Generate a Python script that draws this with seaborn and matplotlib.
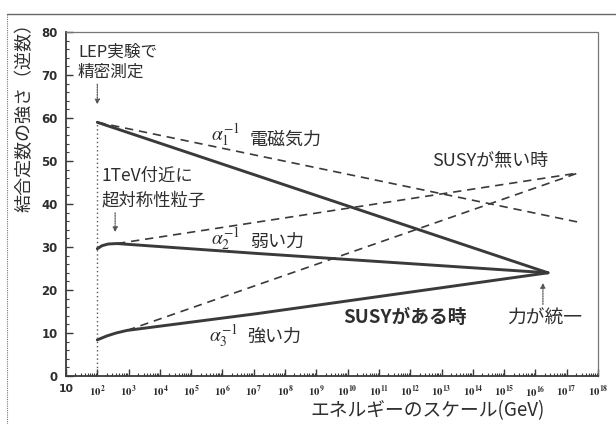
import numpy as np
import pandas as pd
import matplotlib
matplotlib.use("Agg")
import matplotlib.pyplot as plt
import matplotlib.ticker as mticker
from matplotlib.lines import Line2D
import seaborn as sns

# ---- data: inverse coupling constants vs log10(energy / GeV) ----
susy_a1_logE = [2.0, 16.4]
susy_a1 = [59.0, 24.0]
susy_a2_logE = [2.0, 2.15, 2.35, 2.63, 7.1, 16.4]
susy_a2 = [29.6, 30.3, 30.7, 30.8, 28.5, 24.0]
susy_a3_logE = [2.0, 2.3, 2.6, 2.95, 7.1, 16.4]
susy_a3 = [8.4, 9.3, 10.0, 10.6, 14.5, 24.0]

nosusy_a1_logE = [2.0, 17.36]
nosusy_a1 = [59.0, 35.8]
nosusy_a2_logE = [2.63, 17.36]
nosusy_a2 = [30.8, 47.2]
nosusy_a3_logE = [2.95, 17.36]
nosusy_a3 = [10.6, 47.2]

x_tick_exponents = list(range(1, 19))
x_tick_labels = ["10"] + [r"$\mathbf{10^{%d}}$" % e for e in x_tick_exponents[1:]]
y_ticks = [0, 10, 20, 30, 40, 50, 60, 70, 80]

sns.set_theme(style="white")
plt.rcParams["font.family"] = ["Noto Sans CJK JP", "DejaVu Sans"]
plt.rcParams["mathtext.fontset"] = "stix"

INK = "#3a3a3a"
TXT = "#2e2e2e"

frames = []
for name, kind, le, v in [
    ("a1", "susy", susy_a1_logE, susy_a1),
    ("a2", "susy", susy_a2_logE, susy_a2),
    ("a3", "susy", susy_a3_logE, susy_a3),
    ("a1", "nosusy", nosusy_a1_logE, nosusy_a1),
    ("a2", "nosusy", nosusy_a2_logE, nosusy_a2),
    ("a3", "nosusy", nosusy_a3_logE, nosusy_a3),
]:
    frames.append(pd.DataFrame({"E": 10.0 ** np.asarray(le), "inv": v,
                                "force": name, "kind": kind}))
df = pd.concat(frames, ignore_index=True)

fig = plt.figure(figsize=(6.16, 4.24), dpi=100)
ax = fig.add_axes([66 / 616, 48 / 424, 532 / 616, 344 / 424])

for (force, kind), sub in df.groupby(["force", "kind"]):
    if kind == "susy":
        sns.lineplot(data=sub, x="E", y="inv", ax=ax, color=INK, lw=2.1,
                     legend=False, sort=False)
    else:
        sns.lineplot(data=sub, x="E", y="inv", ax=ax, color=INK, lw=1.2,
                     dashes=False, legend=False, sort=False)
        ax.lines[-1].set_dashes((5, 3.5))

ax.set_xscale("log")
ax.set_xlim(10, 1e18)
ax.set_ylim(0, 80)

# vertical marker at the LEP energy
ax.vlines(100, 0, 59, color="#555555", lw=1.0, linestyles=(0, (1, 2)))

# axes and ticks
ax.xaxis.set_major_locator(mticker.FixedLocator([10.0 ** e for e in x_tick_exponents]))
ax.xaxis.set_major_formatter(mticker.FixedFormatter(x_tick_labels))
ax.xaxis.set_minor_locator(mticker.LogLocator(base=10, subs=np.arange(2, 10), numticks=40))
ax.xaxis.set_minor_formatter(mticker.NullFormatter())
ax.set_yticks(y_ticks)
ax.yaxis.set_minor_locator(mticker.MultipleLocator(2))
ax.tick_params(axis="both", which="major", direction="in", length=5, width=1,
               color=INK, labelcolor=TXT, pad=6,
               bottom=True, left=True, top=False, right=False)
ax.tick_params(axis="y", which="major", labelsize=8.5)
ax.tick_params(axis="x", which="major", labelsize=7.8)
ax.tick_params(axis="both", which="minor", direction="in", length=2.5, width=0.8,
               color=INK, bottom=True, left=True, top=False, right=False)
for lab in ax.get_xticklabels() + ax.get_yticklabels():
    lab.set_fontweight("bold")
    lab.set_family("DejaVu Sans")

for side in ["left", "bottom"]:
    ax.spines[side].set_color(INK)
    ax.spines[side].set_linewidth(1.3)
for side in ["top", "right"]:
    ax.spines[side].set_color("#777777")
    ax.spines[side].set_linewidth(0.9)
    ax.spines[side].set_linestyle((0, (1, 1)))

ax.set_xlabel("")
ax.set_ylabel("")
ax.text(0.68, -0.1, "エネルギーのスケール(GeV)", transform=ax.transAxes,
        ha="center", va="center", fontsize=13.5, color=TXT)
ax.text(-0.077, 0.765, "結合定数の強さ（逆数）", transform=ax.transAxes,
        ha="center", va="center", rotation=90, fontsize=13, color=TXT)

# curve labels
def tx(logE, y, s, size=13, **kw):
    ax.text(10.0 ** logE, y, s, ha="left", va="center", fontsize=size, color=TXT, **kw)

tx(5.62, 56.0, r"$\alpha_1^{-1}$", size=14)
tx(6.88, 54.9, "電磁気力")
tx(5.62, 31.8, r"$\alpha_2^{-1}$", size=14)
tx(6.88, 31.2, "弱い力")
tx(5.58, 9.3, r"$\alpha_3^{-1}$", size=14)
tx(6.78, 9.1, "強い力")
tx(12.7, 50.2, "SUSYが無い時")
tx(9.85, 13.5, "SUSYがある時", size=13.5, fontweight="bold")
tx(15.1, 13.5, "力が統一", size=13.5)
tx(1.38, 75.3, "LEP実験で", size=12)
tx(1.38, 70.7, "精密測定", size=12)
tx(2.15, 46.5, "1TeV付近に", size=12.5)
tx(2.15, 40.9, "超対称性粒子", size=12.5)

arrow = dict(arrowstyle="-|>", color="#555555", lw=0.9, linestyle=(0, (1, 1)),
             mutation_scale=7)
ax.annotate("", xy=(100, 62.5), xytext=(100, 68.5), arrowprops=arrow)
ax.annotate("", xy=(10 ** 2.57, 32.8), xytext=(10 ** 2.57, 38.6), arrowprops=arrow)
ax.annotate("", xy=(10 ** 16.24, 22.3), xytext=(10 ** 16.24, 16.0), arrowprops=arrow)

# outer frame of the figure
fig.add_artist(Line2D([7 / 616, 1.0], [1 - 14 / 424, 1 - 14 / 424],
                      transform=fig.transFigure, color="#666666", lw=1.0))
fig.add_artist(Line2D([7 / 616, 7 / 616], [0.0, 1 - 14 / 424],
                      transform=fig.transFigure, color="#777777", lw=0.8,
                      linestyle=(0, (1, 1))))

fig.savefig("out.png", dpi=100, facecolor="white")
